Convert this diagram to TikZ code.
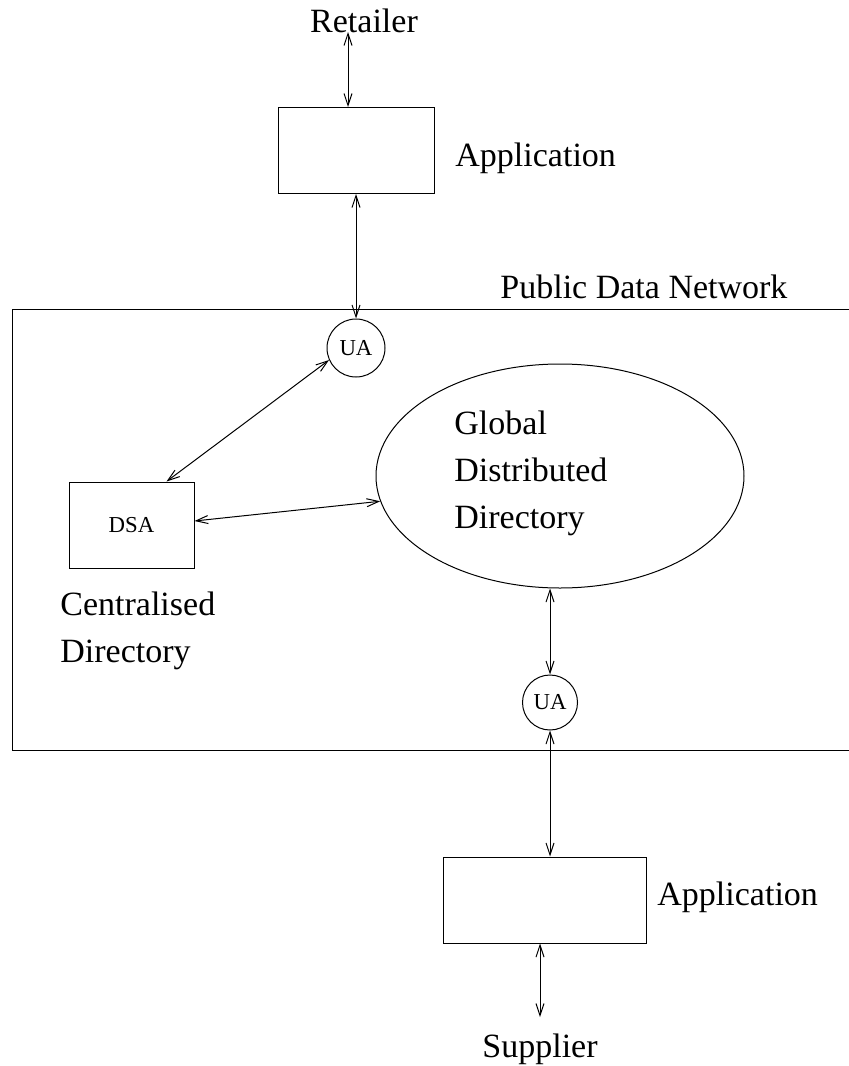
\documentclass[tikz,border=0pt]{standalone}
\usepackage{fontspec}
\setmainfont{Liberation Serif}
\usetikzlibrary{positioning, arrows.meta, calc, shapes.geometric}

\begin{document}
\begin{tikzpicture}[
    x=0.5pt, y=-0.5pt,
    every node/.style={font=\fontsize{17}{23.5}\selectfont},
    lbl/.style={inner sep=0pt, align=left},
    box/.style={rectangle, draw, line width=0.5pt, inner sep=0pt, minimum width=#1, minimum height=43pt},
    box/.default=78pt,
    agent/.style={circle, draw, line width=0.5pt, inner sep=0pt, minimum size=#1, font=\fontsize{11.4}{13}\selectfont},
    agent/.default=29pt,
    dir/.style={ellipse, draw, line width=0.5pt, inner sep=0pt, minimum width=184pt, minimum height=112pt},
    frame/.style={rectangle, draw, line width=0.5pt, inner sep=0pt, anchor=north west},
    arr/.style={{Straight Barb[length=6pt, width=4pt]}-{Straight Barb[length=6pt, width=4pt]}, line width=0.5pt},
]
\useasboundingbox (0,0) rectangle (849,1066);

% network frame (right edge runs off the page)
\node[frame, minimum width=420pt, minimum height=220.5pt] (pdn) at (12,309) {};
\node[lbl, anchor=base west] (pdnlbl) at (500,298) {Public Data Network};

% retailer side
\node[lbl, anchor=base] (retailer) at (364,32) {Retailer};
\node[box] (app1) at (356,150.5) {};
\node[lbl, anchor=base west] (app1lbl) at (455,166) {Application};
\node[agent] (ua1) at (356,348) {UA};

% directories (base of a multi-line label = its last line)
\node[box=62.5pt, font=\fontsize{11.4}{13}\selectfont] (dsa) at (131.5,525) {DSA};
\node[lbl, anchor=base west] (dsalbl) at (60,662) {Centralised\\Directory};
\node[dir] (gdd) at (560,476) {};
\node[lbl, anchor=base west] (gddlbl) at (454,528) {Global\\Distributed\\Directory};

% supplier side
\node[agent=27.5pt] (ua2) at (550,702.5) {UA};
\node[box=101.5pt] (app2) at (544.5,900) {};
\node[lbl, anchor=base west] (app2lbl) at (657,905) {Application};
\node[lbl, anchor=base] (supplier) at (540,1057) {Supplier};

% connections
\draw[arr] ([xshift=-8pt]retailer.base) -- ([xshift=-8pt]retailer.base |- app1.north);
\draw[arr] (app1.south) -- (ua1.north);
\draw[arr] (ua1.204) -- ($(dsa.north)+(35,0)$);
\draw[arr] ([yshift=2pt]dsa.east) -- (gdd.188);
\draw[arr] (gdd.south -| ua2) -- (ua2.north);
\draw[arr] (ua2.south) -- (ua2.south |- app2.north);
\draw[arr] (supplier.north |- app2.south) -- ([yshift=8pt]supplier.north);

\end{tikzpicture}
\end{document}
